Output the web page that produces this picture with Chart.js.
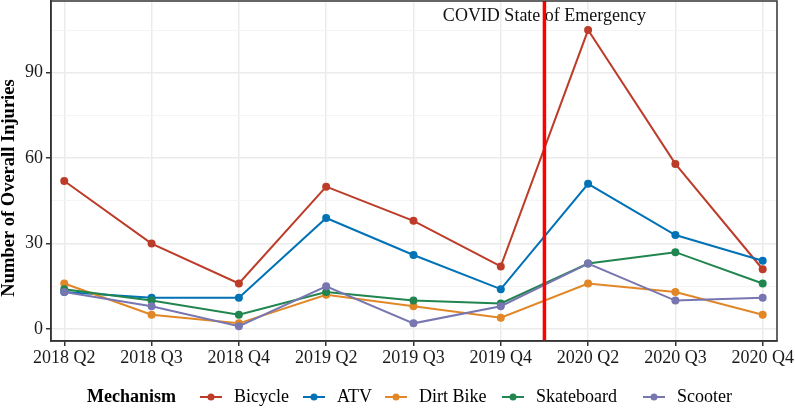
<!DOCTYPE html>
<html>
<head>
<meta charset="utf-8">
<script src="https://cdn.jsdelivr.net/npm/chart.js@4"></script>
<style>
  html, body { margin: 0; padding: 0; background: #fff; }
  #wrap { width: 795px; height: 410px; }
</style>
</head>
<body>
<div id="wrap"><canvas id="myChart" width="795" height="410"></canvas></div>
<script>
// quarters on the x axis
const quarters = ["2018 Q2", "2018 Q3", "2018 Q4", "2019 Q2", "2019 Q3", "2019 Q4", "2020 Q2", "2020 Q3", "2020 Q4"];

// injuries per mechanism
const bicycle = [52, 30, 16, 50, 38, 22, 105, 58, 21];
const atv = [13, 11, 11, 39, 26, 14, 51, 33, 24];
const dirtBike = [16, 5, 2, 12, 8, 4, 16, 13, 5];
const skateboard = [14, 10, 5, 13, 10, 9, 23, 27, 16];
const scooter = [13, 8, 1, 15, 2, 8, 23, 10, 11];

const mechanisms = ["Bicycle", "ATV", "Dirt Bike", "Skateboard", "Scooter"];
const colors = ["#BC3C29", "#0072B5", "#E18727", "#20854E", "#7876B1"];

const yTicks = [0, 30, 60, 90];
const yMinor = [15, 45, 75, 105];
const yTitle = "Number of Overall Injuries";

// covid marker
const eventPos = 5.5;
const eventLabel = "COVID State of Emergency";
const eventLabelY = 110;

// where the legend keys start (px)
const legendKeyX = [200, 303, 385, 502, 643];

Chart.defaults.font.family = "'Liberation Serif', 'Times New Roman', serif";
Chart.defaults.color = "#1a1a1a";

let series = [bicycle, atv, dirtBike, skateboard, scooter];

let datasets = series.map((vals, k) => ({
  label: mechanisms[k],
  data: vals.map((v, i) => ({ x: i, y: v })),
  borderColor: colors[k],
  backgroundColor: colors[k],
  borderWidth: 2,
  pointRadius: 4,
  pointBorderWidth: 0,
  tension: 0,
  // later mechanisms sit on top, like ggplot
  order: series.length - 1 - k,
}));

// border, red line, label, y title and the bottom legend
const extras = {
  id: "extras",
  afterDatasetsDraw(chart) {
    const ctx = chart.ctx;
    const area = chart.chartArea;
    const xs = chart.scales.x;
    const ys = chart.scales.y;

    ctx.save();
    // label
    ctx.fillStyle = "#111";
    ctx.font = "18px 'Liberation Serif', serif";
    ctx.textAlign = "center";
    ctx.textBaseline = "middle";
    ctx.fillText(eventLabel, xs.getPixelForValue(eventPos), ys.getPixelForValue(eventLabelY));

    // red line
    let lx = xs.getPixelForValue(eventPos);
    ctx.strokeStyle = "#FF0000";
    ctx.lineWidth = 3.5;
    ctx.beginPath();
    ctx.moveTo(lx, area.top);
    ctx.lineTo(lx, area.bottom);
    ctx.stroke();

    // panel border
    ctx.strokeStyle = "#333";
    ctx.lineWidth = 1.5;
    ctx.strokeRect(area.left, area.top, area.right - area.left, area.bottom - area.top);

    // y title (original plot was cropped at the top, so it sits low)
    ctx.save();
    ctx.translate(9, 188);
    ctx.rotate(-Math.PI / 2);
    ctx.fillStyle = "#000";
    ctx.font = "bold 18.5px 'Liberation Serif', serif";
    ctx.fillText(yTitle, 0, 0);
    ctx.restore();

    // legend
    let y = 397;
    ctx.textAlign = "left";
    ctx.fillStyle = "#000";
    ctx.font = "bold 18px 'Liberation Serif', serif";
    ctx.fillText("Mechanism", 87, y);
    ctx.font = "18px 'Liberation Serif', serif";
    mechanisms.forEach((m, k) => {
      let x = legendKeyX[k];
      ctx.strokeStyle = colors[k];
      ctx.fillStyle = colors[k];
      ctx.lineWidth = 2;
      ctx.beginPath();
      ctx.moveTo(x, y);
      ctx.lineTo(x + 22, y);
      ctx.stroke();
      ctx.beginPath();
      ctx.arc(x + 11, y, 3.5, 0, Math.PI * 2);
      ctx.fill();
      ctx.fillStyle = "#000";
      ctx.fillText(m, x + 34, y);
    });
    ctx.restore();
  },
};

let config = {
  type: "line",
  data: { datasets: datasets },
  options: {
    responsive: false,
    animation: false,
    layout: { autoPadding: false, padding: { top: 1, right: 18, bottom: 39, left: 0 } },
    plugins: {
      legend: { display: false },
      tooltip: { enabled: false },
    },
    scales: {
      x: {
        type: "linear",
        min: -0.152,
        max: 8.164,
        afterBuildTicks: (s) => {
          s.ticks = quarters.map((q, i) => ({ value: i }));
        },
        afterFit: (s) => {
          s.height = 30;
          s.paddingLeft = 0;
          s.paddingRight = 0;
        },
        ticks: {
          callback: (v) => quarters[v],
          font: { size: 18 },
          padding: 1,
          maxRotation: 0,
          autoSkip: false,
        },
        grid: {
          color: "#ebebeb",
          lineWidth: 1.5,
          tickLength: 5,
          tickColor: "#333",
        },
        border: { color: "#333", width: 1.5 },
      },
      y: {
        min: -4.2,
        max: 115.2,
        afterBuildTicks: (s) => {
          s.ticks = yTicks.concat(yMinor).sort((a, b) => a - b).map((v) => ({ value: v }));
        },
        afterFit: (s) => {
          s.width = 51;
          s.paddingTop = 0;
          s.paddingBottom = 0;
        },
        ticks: {
          callback: (v) => (yTicks.includes(v) ? v : ""),
          font: { size: 18 },
          padding: 3,
        },
        grid: {
          color: (c) => (yTicks.includes(c.tick.value) ? "#ebebeb" : "#f4f4f4"),
          lineWidth: (c) => (yTicks.includes(c.tick.value) ? 1.5 : 1),
          tickLength: 5,
          tickColor: (c) => (yTicks.includes(c.tick.value) ? "#333" : "rgba(0,0,0,0)"),
        },
        border: { color: "#333", width: 1.5 },
      },
    },
  },
  plugins: [extras],
};

new Chart(document.getElementById("myChart"), config);
</script>
</body>
</html>
